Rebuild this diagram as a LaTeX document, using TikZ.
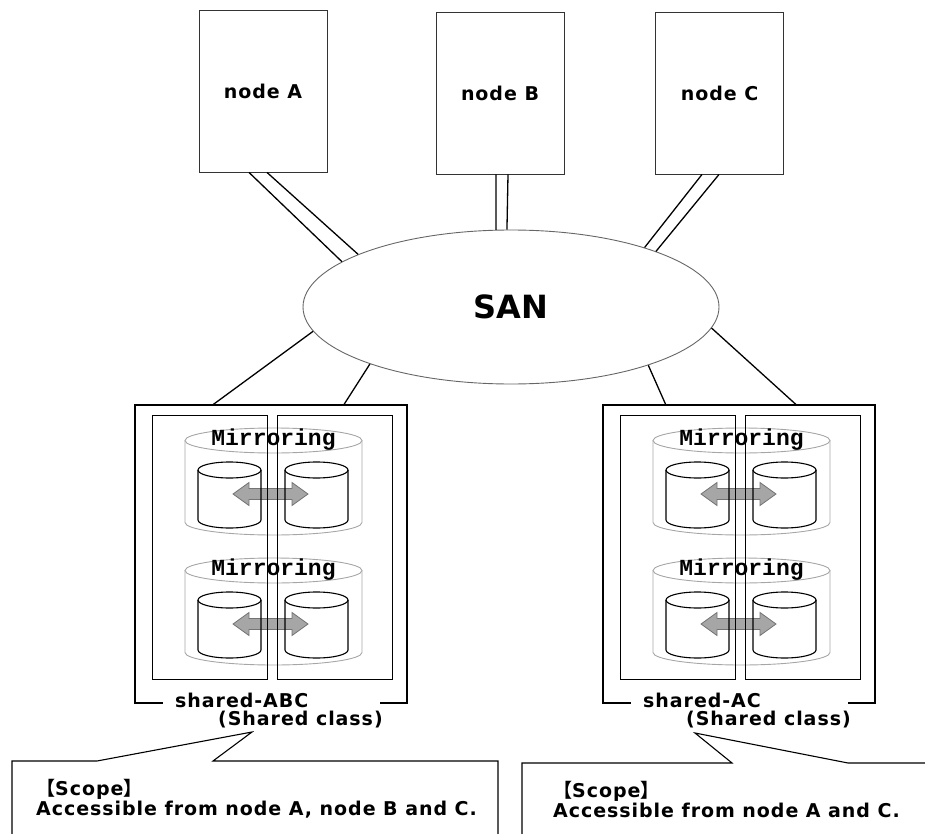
\documentclass[tikz,border=0pt]{standalone}
\usepackage{fontspec}
\usepackage{tikz}
\usetikzlibrary{shapes.geometric}
\setmainfont{DejaVu Sans}[LetterSpace=5]
\newfontfamily\sanfont{DejaVu Sans}
\newfontfamily\drumfont{Liberation Mono}
\newfontfamily\cjk{Noto Sans CJK SC}

\begin{document}
\begin{tikzpicture}[x=1pt,y=1pt,
    lbl/.style={inner sep=0pt,font=\fontsize{19}{20}\selectfont\bfseries},
    host/.style={lbl,draw=black!80,line width=0.9pt,minimum width=128pt,minimum height=162pt},
    link/.style={line width=1.3pt},
    pool/.style={minimum width=272pt,minimum height=298pt,inner sep=0pt},
    drumgray/.style={draw=black!35,line width=0.9pt},
    drum/.style={line width=1.1pt},
    twin/.style={draw=black!55,fill=black!35,line width=0.8pt},
    bubble/.style={line width=1.1pt}]
    \useasboundingbox (0,0) rectangle (925,-834);

    \node[host] (N1) at (263,-91) {node A};
    \node[host] (N2) at (500,-93) {node B};
    \node[host] (N3) at (719.5,-93) {node C};
    \node[ellipse,draw=black!60,line width=0.9pt,inner sep=0pt,minimum width=416pt,minimum height=154pt,
          font=\sanfont\fontsize{32}{36}\selectfont\bfseries] (SAN) at (511,-307) {SAN};

    \foreach \i/\dx/\cls in {1/0/ABC,2/468/AC} {
        \node[pool] (P\i) at (271+\dx,-554) {};
        \draw[line width=1.8pt] ([xshift=28pt]P\i.south west) -- (P\i.south west) -- (P\i.north west)
            -- (P\i.north east) -- (P\i.south east) -- ([xshift=-27pt]P\i.south east);
        \foreach \y in {440.5,570.5} {
            \draw[drumgray] (185+\dx,-\y) -- (185+\dx,-\y-82) arc (180:360:88.5 and 12.5) -- (362+\dx,-\y);
            \draw[drumgray] (273.5+\dx,-\y) ellipse (88.5 and 12.5);
            \node[inner sep=0pt,font=\drumfont\fontsize{23}{24}\selectfont\bfseries] at (273.5+\dx,-\y+1) {Mirroring};
            \draw[twin] (233+\dx,-\y-53.5) -- ++(16,11.5) -- ++(0,-6) -- ++(43,0) -- ++(0,6) -- ++(16,-11.5)
                -- ++(-16,-11.5) -- ++(0,6) -- ++(-43,0) -- ++(0,-6) -- cycle;
            \foreach \cx in {229.5,316.5} {
                \draw[drum] (\cx-31.5+\dx,-\y-29.5) -- ++(0,-50) arc (180:360:31.5 and 8) -- ++(0,50);
                \draw[drum] (\cx+\dx,-\y-29.5) ellipse (31.5 and 8);
            }
        }
        \draw[line width=1pt] (152+\dx,-415) rectangle (267+\dx,-679) (277+\dx,-415) rectangle (392+\dx,-679);
        \node[lbl,anchor=west] (L\i) at (175+\dx,-700) {shared-\cls};
        \node[lbl,anchor=west] (K\i) at (218+\dx,-720) {(Shared class)};
    }

    \draw[link] ([xshift=-14pt]N1.south) -- (SAN.165.6);
    \draw[link] ([xshift=4pt]N1.south) -- (SAN.161.5);
    \draw[link] ([xshift=-4pt]N2.south) -- (SAN.101.7);
    \draw[link] ([xshift=8pt]N2.south) -- (SAN.93);
    \draw[link] ([xshift=-17.5pt]N3.south) -- (SAN.24.9);
    \draw[link] ([xshift=-0.5pt]N3.south) -- (SAN.21.8);
    \draw[link] (SAN.187.2) -- ([xshift=78pt]P1.north west);
    \draw[link] (SAN.202.4) -- ([xshift=209pt]P1.north west);
    \draw[link] (SAN.337) -- ([xshift=63pt]P2.north west);
    \draw[link] (SAN.354.4) -- ([xshift=193.5pt]P2.north west);

    \draw[bubble] (12,-834) -- (12,-761) -- (97,-761) -- (252,-732) -- (213,-761) -- (498,-761) -- (498,-834);
    \draw[bubble] (522,-834) -- (522,-763) -- (732,-763) -- (695,-733) -- (848,-763) -- (925,-763);
    \node[lbl,anchor=west,align=left] (T1) at (36,-799) {{\cjk 【}Scope{\cjk 】}\\Accessible from node A, node B and C.};
    \node[lbl,anchor=west,align=left] (T2) at (553,-800) {{\cjk 【}Scope{\cjk 】}\\Accessible from node A and C.};
\end{tikzpicture}
\end{document}
